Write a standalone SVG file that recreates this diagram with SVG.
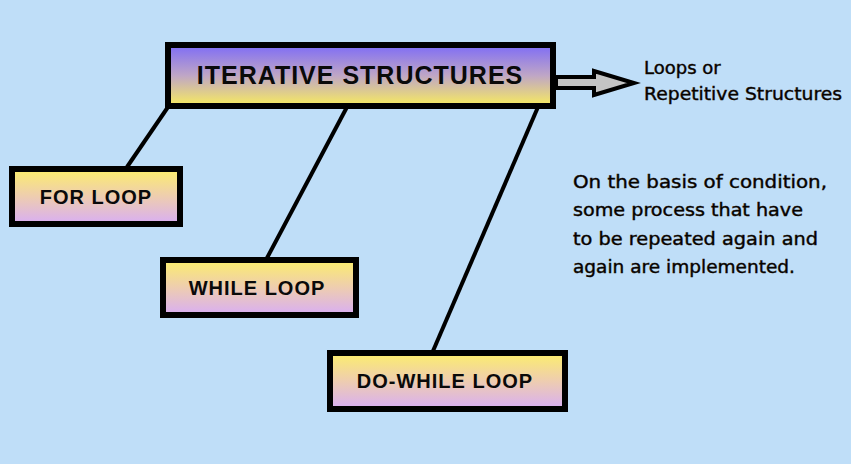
<svg xmlns="http://www.w3.org/2000/svg" width="851" height="464" viewBox="0 0 851 464">
  <defs>
    <linearGradient id="gMain" x1="0" y1="0" x2="0" y2="1">
      <stop offset="0" stop-color="#7E6CF6"/>
      <stop offset="0.5" stop-color="#BFA6C6"/>
      <stop offset="1" stop-color="#F8EC5E"/>
    </linearGradient>
    <linearGradient id="gSub" x1="0" y1="0" x2="0" y2="1">
      <stop offset="0" stop-color="#FCEE6C"/>
      <stop offset="0.5" stop-color="#EECDB0"/>
      <stop offset="1" stop-color="#D8AEF4"/>
    </linearGradient>
    <style>
      .box { stroke: #000; stroke-width: 6; }
      .main { fill: url(#gMain); }
      .sub { fill: url(#gSub); }
      .lbl { font-family: "Liberation Sans", Arial, sans-serif; font-weight: bold; fill: #0a0a0a; text-anchor: middle; letter-spacing: 1px; }
      .note { font-family: "Comic Sans MS", "DejaVu Sans", sans-serif; fill: #000; stroke: #1a0c00; stroke-width: 0.45; font-size: 18px; }
      .conn { stroke: #000; stroke-width: 4; fill: none; }
    </style>
  </defs>
  <rect width="851" height="464" fill="#BFDEF8"/>

  <g id="connectors">
    <line class="conn" x1="168" y1="107" x2="127" y2="167"/>
    <line class="conn" x1="347" y1="107" x2="267" y2="258"/>
    <line class="conn" x1="538" y1="107" x2="433" y2="351"/>
    <polygon points="556,77 594,77 594,71 634,83 594,95 594,88 556,88" fill="#C4C4C4" stroke="#000" stroke-width="4" stroke-linejoin="miter"/>
  </g>

  <g id="iterative">
    <rect class="box main" x="168" y="45" width="385" height="61"/>
    <text class="lbl" x="360" y="84" font-size="25">ITERATIVE STRUCTURES</text>
  </g>

  <g id="for-loop">
    <rect class="box sub" x="12" y="169" width="168" height="55"/>
    <text class="lbl" x="96" y="204" font-size="20">FOR LOOP</text>
  </g>

  <g id="while-loop">
    <rect class="box sub" x="163" y="260" width="193" height="55"/>
    <text class="lbl" x="257" y="295" font-size="20">WHILE LOOP</text>
  </g>

  <g id="do-while-loop">
    <rect class="box sub" x="330" y="353" width="235" height="56"/>
    <text class="lbl" x="445" y="388" font-size="20">DO-WHILE LOOP</text>
  </g>

  <g id="loops-label">
    <text class="note" x="644" y="74" font-size="17">Loops or</text>
    <text class="note" x="644" y="100" font-size="17" textLength="198" lengthAdjust="spacingAndGlyphs">Repetitive Structures</text>
  </g>

  <g id="description">
    <text class="note" x="573" y="188" textLength="254" lengthAdjust="spacingAndGlyphs">On the basis of condition,</text>
    <text class="note" x="573" y="216" textLength="230" lengthAdjust="spacingAndGlyphs">some process that have</text>
    <text class="note" x="573" y="245" textLength="245" lengthAdjust="spacingAndGlyphs">to be repeated again and</text>
    <text class="note" x="573" y="273" textLength="222" lengthAdjust="spacingAndGlyphs">again are implemented.</text>
  </g>
</svg>
